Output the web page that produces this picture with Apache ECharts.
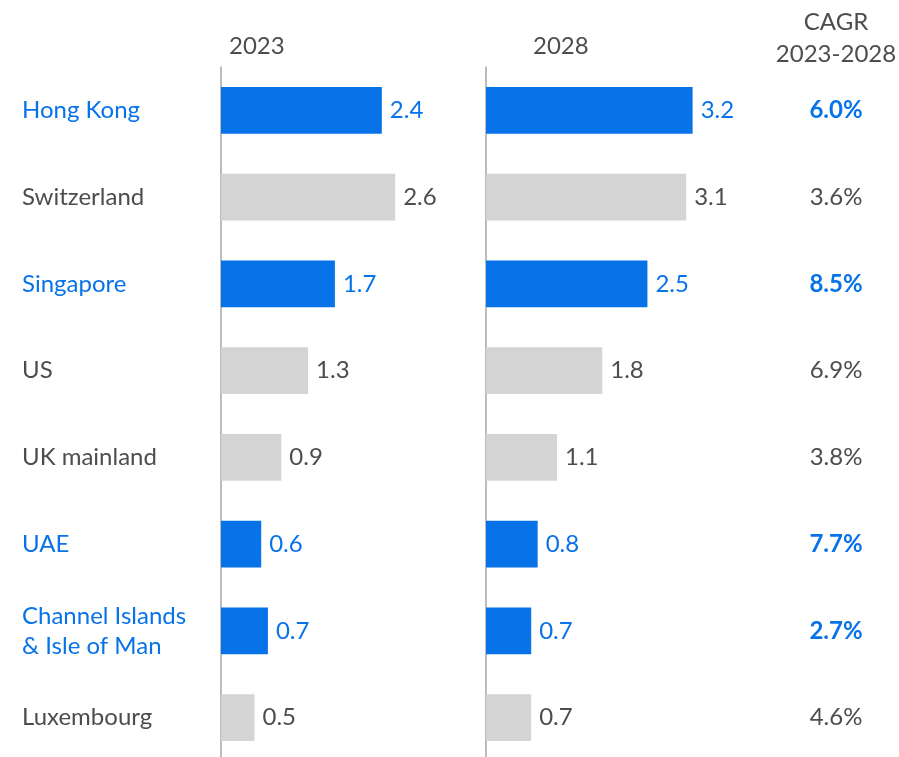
<!DOCTYPE html>
<html>
<head>
<meta charset="utf-8">
<script src="https://cdn.jsdelivr.net/npm/echarts@6/dist/echarts.min.js"></script>
<style>
  html, body { margin: 0; padding: 0; background: #fff; }
  #chart { width: 899px; height: 757px; }
</style>
</head>
<body>
<div id="chart"></div>
<script>
// Market size by booking centre, 2023 vs 2028, with growth rate
const categories = ['Hong Kong', 'Switzerland', 'Singapore', 'US', 'UK mainland', 'UAE', 'Channel Islands\n& Isle of Man', 'Luxembourg'];
const values2023 = [2.4, 2.6, 1.7, 1.3, 0.9, 0.6, 0.7, 0.5];
const values2028 = [3.2, 3.1, 2.5, 1.8, 1.1, 0.8, 0.7, 0.7];
const cagr = ['6.0%', '3.6%', '8.5%', '6.9%', '3.8%', '7.7%', '2.7%', '4.6%'];
const highlighted = [true, false, true, false, false, true, true, false];
const headers = ['2023', '2028', 'CAGR\n2023-2028'];

const BLUE = '#0873E9';
const GREY_BAR = '#D4D4D4';
const TEXT = '#4D4D4D';
const FONT = 'Lato';
const FS = 24;

const rowTop = 67, rowHeight = 694;

function barData(vals) {
  return vals.map((v, i) => ({
    value: v,
    itemStyle: { color: highlighted[i] ? BLUE : GREY_BAR },
    label: { color: highlighted[i] ? BLUE : TEXT }
  }));
}

const chart = echarts.init(document.getElementById('chart'));
chart.setOption({
  animation: false,
  textStyle: { fontFamily: FONT },
  title: [
    { text: headers[0], left: 224, top: 29, textStyle: { fontFamily: FONT, fontSize: FS, fontWeight: 'normal', color: TEXT } },
    { text: headers[1], left: 528, top: 29, textStyle: { fontFamily: FONT, fontSize: FS, fontWeight: 'normal', color: TEXT } },
    { text: headers[2], left: 831, top: 1, textAlign: 'center',
      textStyle: { fontFamily: FONT, fontSize: FS, fontWeight: 'normal', color: TEXT, lineHeight: 32, align: 'center' } }
  ],
  grid: [
    { left: 221, top: rowTop, width: 201, height: rowHeight, outerBoundsMode: 'none' },
    { left: 486, top: rowTop, width: 226, height: rowHeight, outerBoundsMode: 'none' }
  ],
  xAxis: [
    { type: 'value', gridIndex: 0, min: 0, max: 3, show: false },
    { type: 'value', gridIndex: 1, min: 0, max: 3.5, show: false }
  ],
  yAxis: [
    {
      type: 'category', gridIndex: 0, data: categories, inverse: true,
      axisLine: { show: true, lineStyle: { color: '#A6A6A6', width: 1.5 } },
      axisTick: { show: false },
      axisLabel: {
        margin: 199, align: 'left', fontFamily: FONT, fontSize: FS, lineHeight: 30,
        color: (val, idx) => highlighted[idx] ? BLUE : TEXT
      }
    },
    {
      type: 'category', gridIndex: 1, data: categories, inverse: true,
      axisLine: { show: true, lineStyle: { color: '#A6A6A6', width: 1.5 } },
      axisTick: { show: false },
      axisLabel: { show: false }
    },
    {
      type: 'category', gridIndex: 1, data: categories, inverse: true, position: 'right',
      axisLine: { show: false }, axisTick: { show: false },
      axisLabel: {
        margin: 124, align: 'center',
        formatter: (val, idx) => highlighted[idx] ? '{hi|' + cagr[idx] + '}' : '{lo|' + cagr[idx] + '}',
        rich: {
          hi: { fontFamily: FONT, fontSize: FS, fontWeight: 'bold', color: BLUE },
          lo: { fontFamily: FONT, fontSize: FS, color: TEXT }
        }
      }
    }
  ],
  series: [
    {
      type: 'bar', xAxisIndex: 0, yAxisIndex: 0, barWidth: '54%',
      data: barData(values2023),
      label: { show: true, position: 'right', distance: 8, fontFamily: FONT, fontSize: FS }
    },
    {
      type: 'bar', xAxisIndex: 1, yAxisIndex: 1, barWidth: '54%',
      data: barData(values2028),
      label: { show: true, position: 'right', distance: 8, fontFamily: FONT, fontSize: FS }
    }
  ]
});
</script>
</body>
</html>
